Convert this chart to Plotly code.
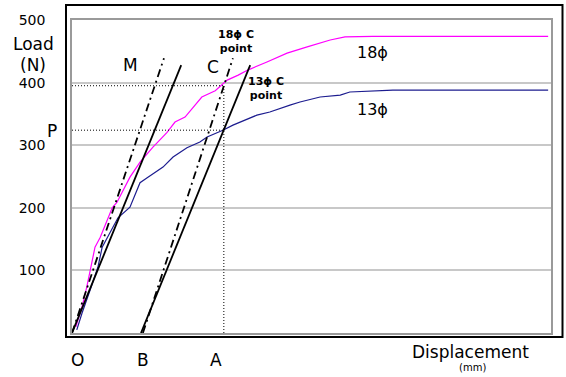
import plotly.graph_objects as go

# ---- data (x: displacement, arbitrary units 0-100; y: load in N) ----
x_18 = [0.8, 2.1, 3.1, 4.8, 5.9, 8.4, 9.4, 11.1, 12.1, 14.2, 16.9, 19.8, 21.5, 23.6,
        27.1, 29.9, 32.4, 34.7, 36.7, 40.7, 44.9, 49.1, 51.8, 53.9, 57.0, 62.8, 99.4]
y_18 = [10, 42, 74, 137, 153, 200, 209, 233, 249, 273, 297, 320, 337, 345,
        377, 387, 404, 412, 420, 433, 447, 457, 463, 468, 473, 474, 474]

x_13 = [1.0, 2.1, 3.8, 5.4, 6.3, 7.3, 9.6, 12.1, 14.2, 15.7, 19.0, 21.1, 24.0, 26.7,
        28.2, 31.5, 33.6, 38.6, 41.3, 45.5, 47.6, 51.8, 56.0, 58.0, 62.8, 67.0, 99.4]
y_13 = [5, 32, 69, 105, 137, 152, 184, 201, 240, 248, 265, 281, 296, 305,
        313, 324, 332, 348, 353, 364, 369, 377, 380, 385, 387, 388, 388]

# tangent / offset construction lines
m_solid_x = [0.0, 22.8]
m_solid_y = [0, 428]
m_dash_x = [0.0, 19.2]
m_dash_y = [0, 439]
a_solid_x = [14.4, 37.2]
a_solid_y = [0, 428]
a_dash_x = [14.8, 33.6]
a_dash_y = [0, 439]

# C points
c_x = 31.7
p_13 = 324
p_18 = 395

y_ticks = [100, 200, 300, 400, 500]
y_tick_text = ["100", "200", "300", "400", "500"]

FONT = "DejaVu Sans"

fig = go.Figure()

fig.add_trace(go.Scatter(x=x_18, y=y_18, mode="lines",
                         line=dict(color="#ff00ff", width=1.2), showlegend=False))
fig.add_trace(go.Scatter(x=x_13, y=y_13, mode="lines",
                         line=dict(color="#1c1c8f", width=1.2), showlegend=False))

for xs, ys, dash in [(m_solid_x, m_solid_y, "solid"), (m_dash_x, m_dash_y, "8px,4px,2px,4px"),
                     (a_solid_x, a_solid_y, "solid"), (a_dash_x, a_dash_y, "8px,4px,2px,4px")]:
    fig.add_trace(go.Scatter(x=xs, y=ys, mode="lines",
                             line=dict(color="black", width=1.8, dash=dash), showlegend=False))

# dotted guide lines
dot = dict(color="black", width=1, dash="1px,2px")
fig.add_trace(go.Scatter(x=[0, c_x], y=[p_18, p_18], mode="lines", line=dot, showlegend=False))
fig.add_trace(go.Scatter(x=[0, c_x], y=[p_13, p_13], mode="lines", line=dot, showlegend=False))
fig.add_trace(go.Scatter(x=[c_x, c_x], y=[0, p_18], mode="lines", line=dot, showlegend=False))

L, R, T, B = 72, 15, 20, 44
W, H = 566, 377
PW, PH = W - L - R, H - T - B


def px(x):
    return (x - L) / PW


def py(y):
    return (H - B - y) / PH


def ann(text, x, y, size, bold=False):
    if bold:
        text = "<b>" + text + "</b>"
    fig.add_annotation(x=px(x), y=py(y), xref="paper", yref="paper", text=text,
                       showarrow=False, xanchor="center", yanchor="middle",
                       font=dict(family=FONT, size=size, color="black"))


ann("Load", 33, 44, 17)
ann("(N)", 33, 65, 17)
ann("P", 52, 131, 17)
ann("M", 130, 65, 17)
ann("C", 213, 67, 17)
ann("18ϕ C<br>point", 236, 41, 11, bold=True)
ann("13ϕ C<br>point", 266, 89, 11, bold=True)
ann("18ϕ", 372, 52, 16)
ann("13ϕ", 372, 110, 16)
ann("O", 77, 360, 17)
ann("B", 143, 360, 17)
ann("A", 216, 360, 17)
ann("Displacement", 470, 352, 17)
ann("(mm)", 472, 367, 10)

# outer black frame
fig.add_shape(type="rect", xref="paper", yref="paper",
              x0=px(66), x1=px(562.5), y0=py(337), y1=py(5),
              line=dict(color="black", width=2), fillcolor="rgba(0,0,0,0)",
              layer="above")

fig.update_layout(
    width=W, height=H,
    margin=dict(l=L, r=R, t=T, b=B),
    paper_bgcolor="white", plot_bgcolor="white",
    font=dict(family=FONT, color="black"),
    xaxis=dict(range=[0, 100], showgrid=False, zeroline=False, showticklabels=False,
               ticks="", showline=True, mirror=True, linecolor="#9a9a9a", linewidth=1.5),
    yaxis=dict(range=[0, 500], tickvals=y_ticks, ticktext=y_tick_text, showgrid=True,
               gridcolor="#c8c8c8", gridwidth=1.5, zeroline=False, ticks="",
               ticklabelstandoff=22, tickfont=dict(family=FONT, size=14, color="black"),
               showline=True, mirror=True, linecolor="#9a9a9a", linewidth=1.5),
)

fig.write_html("out.html", config={"displayModeBar": False},
               post_script="document.body.style.margin='0px';document.body.style.overflow='hidden';")
